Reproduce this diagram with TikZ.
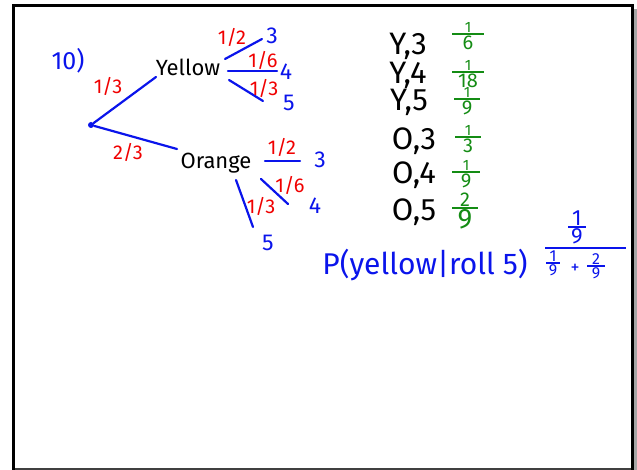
\documentclass[tikz,border=0pt]{standalone}
\usepackage{fontspec}
\setmainfont{Fira Sans}
\definecolor{penblue}{RGB}{10,20,235}
\definecolor{penred}{RGB}{240,0,0}
\definecolor{pengreen}{RGB}{20,140,20}
\newcommand{\hfrac}[8]{%
  \coordinate (#1-l) at (#2-#6,#3);
  \coordinate (#1-r) at (#2+#6,#3);
  \draw[#7, line width=1.5pt] (#1-l) -- (#1-r);
  \node[#7, anchor=south, inner sep=0pt, yshift=1pt] (#1-n) at (#2,#3) {#4};
  \node[#8, anchor=north, inner sep=0pt, yshift=-1.5pt] (#1-d) at (#2,#3) {#5};}
\begin{document}
\begin{tikzpicture}[x=1pt,y=-1pt,
  br/.style={penblue, line width=2.2pt, line cap=round},
  word/.style={inner sep=0pt, font=\fontsize{22}{24}\selectfont},
  rd/.style={penred, inner sep=0pt, font=\fontsize{20}{22}\selectfont},
  num/.style={penblue, inner sep=0pt, font=\fontsize{23}{25}\selectfont},
  pair/.style={inner sep=0pt, font=\fontsize{31}{33}\selectfont},
  grn/.style={pengreen, font=\fontsize{15}{16}\selectfont},
  grd/.style={pengreen, font=\fontsize{20}{21}\selectfont},
  grbn/.style={pengreen, font=\fontsize{20}{22}\selectfont},
  grbd/.style={pengreen, font=\fontsize{28}{30}\selectfont},
  bf/.style={penblue, font=\fontsize{22}{24}\selectfont},
  bfs/.style={penblue, font=\fontsize{16}{17}\selectfont}]
\useasboundingbox (0,0) rectangle (637,470);
% frame
\draw[gray!70, line width=3pt] (635,9) -- (635,470);
\draw[black!75, line width=2pt] (13,469) -- (632,469);
\draw[black, line width=3pt] (13,470) -- (13,6) -- (632,6) -- (632,470);
% tree
\node[num, font=\fontsize{25}{27}\selectfont] (q) at (68,61) {10)};
\node[circle, fill=penblue, inner sep=0pt, minimum size=6pt] (root) at (91,125) {};
\node[word] (yel) at (188,67) {Yellow};
\node[word] (ora) at (216,163) {Orange};
\coordinate (ry) at (156,77);
\coordinate (ro) at (177,149);
\draw[br] (root) -- (ry);
\draw[br] (root) -- (ro);
\node[rd] (p13) at (108,86) {1/3};
\node[rd] (p23) at (128,152) {2/3};
% yellow branches
\coordinate (ya1) at (225,59); \coordinate (yb1) at (262,39);
\coordinate (ya2) at (228,71); \coordinate (yb2) at (277,71);
\coordinate (ya3) at (229,80); \coordinate (yb3) at (263,101);
\draw[br] (ya1) -- (yb1);
\draw[br] (ya2) -- (yb2);
\draw[br] (ya3) -- (yb3);
\node[num] (y3) at (272,36) {3};
\node[num] (y4) at (286,72) {4};
\node[num] (y5) at (289,103) {5};
\node[rd] (yp1) at (232,37) {1/2};
\node[rd] (yp2) at (263,60) {1/6};
\node[rd] (yp3) at (264,88) {1/3};
% orange branches
\coordinate (oa1) at (265,161); \coordinate (ob1) at (300,161);
\coordinate (oa2) at (261,179); \coordinate (ob2) at (288,204);
\coordinate (oa3) at (236,180); \coordinate (ob3) at (253,227);
\draw[br] (oa1) -- (ob1);
\draw[br] (oa2) -- (ob2);
\draw[br] (oa3) -- (ob3);
\node[num] (o3) at (320,160) {3};
\node[num] (o4) at (315,206) {4};
\node[num] (o5) at (268,243) {5};
\node[rd] (op1) at (282,147) {1/2};
\node[rd] (op2) at (290,185) {1/6};
\node[rd] (op3) at (261,206) {1/3};
% outcome list
\node[pair] (l1) at (408,46) {Y,3};
\node[pair] (l2) at (408,75) {Y,4};
\node[pair] (l3) at (409,102) {Y,5};
\node[pair] (l4) at (414,141) {O,3};
\node[pair] (l5) at (414,175) {O,4};
\node[pair] (l6) at (414,212) {O,5};
\hfrac{g1}{468}{34}{1}{6}{16}{grn}{grd}
\hfrac{g2}{468}{72}{1}{18}{16}{grn}{grd}
\hfrac{g3}{467}{99}{1}{9}{13}{grn}{grd}
\hfrac{g4}{468}{137}{1}{3}{13}{grn}{grd}
\hfrac{g5}{466}{172}{1}{9}{14}{grn}{grd}
\hfrac{g6}{465}{208}{2}{9}{13}{grbn}{grbd}
% conditional probability
\node[penblue, inner sep=0pt, font=\fontsize{30}{32}\selectfont] (pq) at (425,265) {P(yellow|roll 5)};
\coordinate (mbl) at (545,248);
\coordinate (mbr) at (626,248);
\draw[penblue, line width=1.6pt] (mbl) -- (mbr);
\hfrac{n1}{577}{227}{1}{9}{9}{bf}{bf}
\hfrac{d1}{553}{263}{1}{9}{7}{bfs}{bfs}
\node[penblue, inner sep=0pt, font=\fontsize{18}{20}\selectfont] (plus) at (575,269) {+};
\hfrac{d2}{596}{266}{2}{9}{9}{bfs}{bfs}
\end{tikzpicture}
\end{document}
